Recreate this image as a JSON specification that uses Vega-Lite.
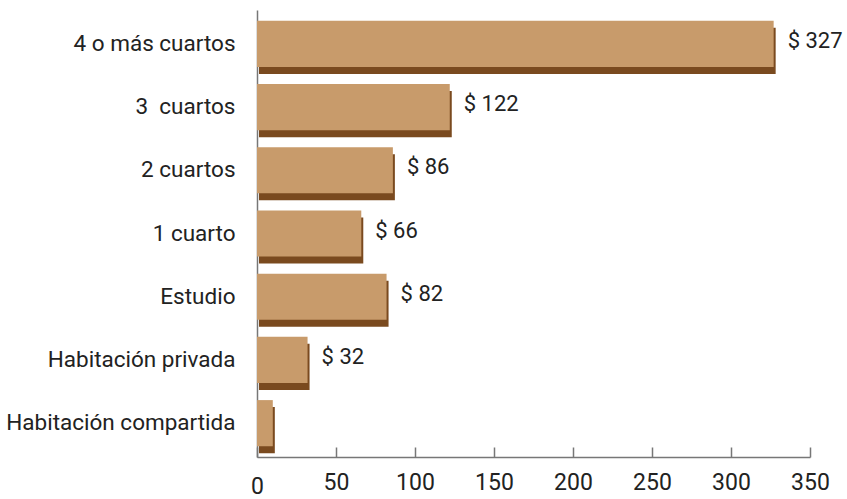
{
  "$schema": "https://vega.github.io/schema/vega-lite/v6.json",
  "width": 553,
  "height": 447,
  "autosize": {"type": "none"},
  "padding": {"left": 257, "right": 37, "top": 10, "bottom": 42},
  "background": "white",
  "config": {"view": {"stroke": null}, "font": "Roboto"},
  "data": {
    "values": [
      {"tipo": "4 o más cuartos", "precio": 327, "etiqueta": "$ 327"},
      {"tipo": "3 \u00a0cuartos", "precio": 122, "etiqueta": "$ 122"},
      {"tipo": "2 cuartos", "precio": 86, "etiqueta": "$ 86"},
      {"tipo": "1 cuarto", "precio": 66, "etiqueta": "$ 66"},
      {"tipo": "Estudio", "precio": 82, "etiqueta": "$ 82"},
      {"tipo": "Habitación privada", "precio": 32, "etiqueta": "$ 32"},
      {"tipo": "Habitación compartida", "precio": 10, "etiqueta": ""}
    ]
  },
  "encoding": {
    "y": {
      "field": "tipo",
      "type": "nominal",
      "sort": null,
      "scale": {"paddingInner": 0.27, "paddingOuter": 0.17},
      "axis": {
        "title": null,
        "ticks": false,
        "domainColor": "#777777",
        "domainWidth": 1.5,
        "labelFont": "Roboto",
        "labelFontSize": 22.5,
        "labelColor": "#222222",
        "labelPadding": 22,
        "labelLimit": 300
      }
    },
    "x": {
      "field": "precio",
      "type": "quantitative",
      "scale": {"domain": [0, 350], "nice": false},
      "axis": {
        "title": null,
        "grid": false,
        "values": [0, 50, 100, 150, 200, 250, 300, 350],
        "domainColor": "#777777",
        "domainWidth": 1.5,
        "tickColor": "#777777",
        "tickWidth": 1.5,
        "tickSize": -10,
        "labelFont": "Roboto",
        "labelFontSize": 23,
        "labelColor": "#222222",
        "labelPadding": {"condition": {"test": "datum.value === 0", "value": 28}, "value": 24},
        "labelFlush": false
      }
    }
  },
  "layer": [
    {
      "mark": {"type": "bar", "color": "#7a4a1f", "xOffset": 2, "yOffset": 7}
    },
    {
      "mark": {"type": "bar", "color": "#c89b6b"}
    },
    {
      "mark": {"type": "text", "align": "left", "baseline": "middle", "dx": 14, "dy": -3, "font": "Roboto", "fontSize": 22, "color": "#222222"},
      "encoding": {"text": {"field": "etiqueta"}}
    }
  ]
}
